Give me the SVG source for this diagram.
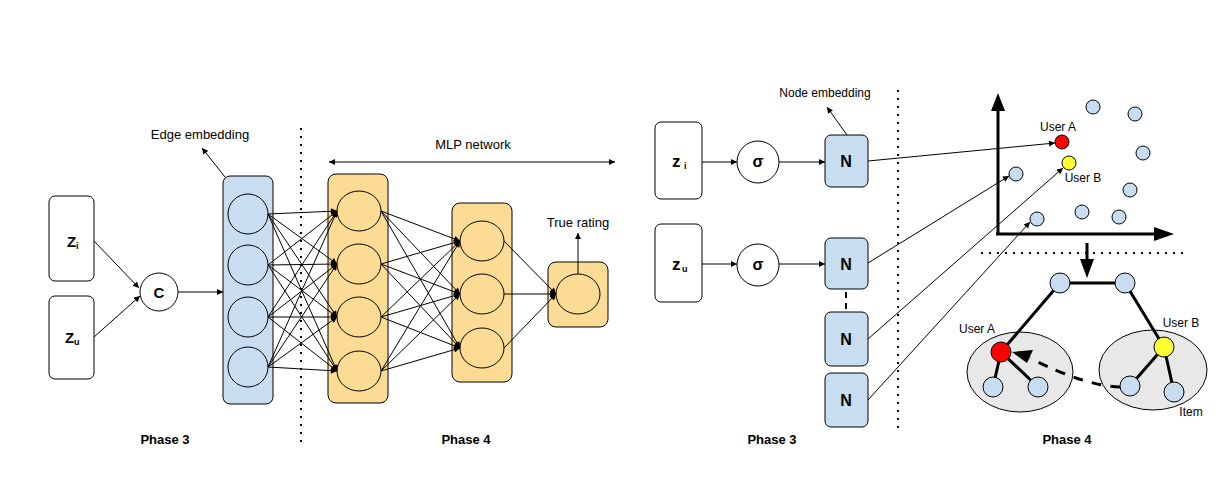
<svg xmlns="http://www.w3.org/2000/svg" width="1232" height="477" viewBox="0 0 1232 477">
<style>
.t{font-family:"Liberation Sans",Arial,sans-serif;fill:#000}
.b{font-weight:bold}
.ln{stroke:#000;stroke-width:1;fill:none}
.box{fill:#fff;stroke:#000;stroke-width:1}
.blue{fill:#c9ddf0;stroke:#000;stroke-width:1}
.yel{fill:#fcdc95;stroke:#000;stroke-width:1}
.dot{stroke:#000;stroke-width:2;stroke-dasharray:2 6;fill:none}
.thick{stroke:#000;stroke-width:3;fill:none}
.pt{fill:#c9ddf0;stroke:#000;stroke-width:1}
</style>
<defs>
<marker id="ah" viewBox="0 0 10 10" refX="10" refY="5" markerWidth="7" markerHeight="6" markerUnits="userSpaceOnUse" orient="auto-start-reverse">
<path d="M0,0 L10,5 L0,10 z" fill="#000"/>
</marker>
</defs>
<rect width="1232" height="477" fill="#fff"/>

<!-- separators -->
<g id="separators">
<line class="dot" x1="301" y1="128" x2="301" y2="445"/>
<line class="dot" x1="898" y1="90" x2="898" y2="430"/>
<line class="dot" x1="981" y1="253" x2="1185" y2="253"/>
</g>

<!-- left phase 3 nodes -->
<g id="zi-left"><rect class="box" x="49" y="196" width="45" height="85" rx="6"/>
<text class="t b" x="67" y="247" font-size="15">Z</text><text class="t b" x="76" y="249" font-size="9">i</text></g>
<g id="zu-left"><rect class="box" x="49" y="296" width="45" height="83" rx="6"/>
<text class="t b" x="65" y="343" font-size="15">Z</text><text class="t b" x="74" y="345" font-size="9">u</text></g>
<g id="concat"><circle class="box" cx="159" cy="292" r="19"/>
<text class="t b" x="159" y="298" font-size="15" text-anchor="middle">C</text></g>
<g id="edge-embedding"><rect class="blue" x="223" y="176" width="50" height="228" rx="7"/>
<circle class="blue" cx="248" cy="214" r="20"/><circle class="blue" cx="248" cy="265" r="20"/><circle class="blue" cx="248" cy="317" r="20"/><circle class="blue" cx="248" cy="367" r="20"/>
<text class="t" x="200" y="139" font-size="13" text-anchor="middle">Edge embedding</text></g>

<!-- MLP -->
<g id="mlp1"><rect class="yel" x="328" y="174" width="60" height="229" rx="8"/>
<ellipse class="yel" cx="359" cy="211" rx="22" ry="20"/><ellipse class="yel" cx="359" cy="264" rx="22" ry="20"/><ellipse class="yel" cx="359" cy="317" rx="22" ry="20"/><ellipse class="yel" cx="359" cy="371" rx="22" ry="20"/></g>
<g id="mlp2"><rect class="yel" x="452" y="203" width="60" height="179" rx="8"/>
<ellipse class="yel" cx="482" cy="241" rx="22" ry="20"/><ellipse class="yel" cx="482" cy="294" rx="22" ry="20"/><ellipse class="yel" cx="482" cy="348" rx="22" ry="20"/></g>
<g id="output"><rect class="yel" x="548" y="262" width="60" height="65" rx="8"/>
<ellipse class="yel" cx="578" cy="294" rx="22" ry="20"/>
<text class="t" x="578" y="227" font-size="13" text-anchor="middle">True rating</text></g>
<g id="mlp-label"><text class="t" x="473" y="149" font-size="13" text-anchor="middle">MLP network</text></g>

<!-- right phase 3 -->
<g id="zi-right"><rect class="box" x="655" y="122" width="47" height="77" rx="6"/>
<text class="t b" x="672" y="167" font-size="17">z</text><text class="t b" x="684" y="169" font-size="9">i</text></g>
<g id="zu-right"><rect class="box" x="655" y="224" width="47" height="78" rx="6"/>
<text class="t b" x="672" y="270" font-size="17">z</text><text class="t b" x="682" y="272" font-size="9">u</text></g>
<g id="sigma1"><circle class="box" cx="758" cy="162" r="21"/><text class="t b" x="758" y="167" font-size="16" text-anchor="middle">σ</text></g>
<g id="sigma2"><circle class="box" cx="758" cy="265" r="21"/><text class="t b" x="758" y="270" font-size="16" text-anchor="middle">σ</text></g>
<g id="n1"><rect class="blue" x="825" y="135" width="43" height="52" rx="6"/><text class="t b" x="846" y="167" font-size="16" text-anchor="middle">N</text></g>
<g id="n2"><rect class="blue" x="825" y="238" width="43" height="51" rx="6"/><text class="t b" x="846" y="270" font-size="16" text-anchor="middle">N</text></g>
<g id="n3"><rect class="blue" x="825" y="312" width="43" height="54" rx="6"/><text class="t b" x="846" y="345" font-size="16" text-anchor="middle">N</text></g>
<g id="n4"><rect class="blue" x="825" y="373" width="43" height="54" rx="6"/><text class="t b" x="846" y="406" font-size="16" text-anchor="middle">N</text></g>
<g id="node-emb-label"><text class="t" x="825" y="97" font-size="12" text-anchor="middle">Node embedding</text></g>

<!-- embedding space -->
<g id="space">
<line class="thick" x1="998" y1="235" x2="998" y2="108" stroke-width="4"/>
<polygon points="991,111 1005,111 998,93" fill="#000"/>
<line class="thick" x1="996" y1="234" x2="1156" y2="234" stroke-width="4"/>
<polygon points="1154,227 1154,241 1174,234" fill="#000"/>
<circle class="pt" cx="1093" cy="107" r="7"/><circle class="pt" cx="1135" cy="114" r="7"/><circle class="pt" cx="1143" cy="153" r="7"/>
<circle class="pt" cx="1130" cy="190" r="7"/><circle class="pt" cx="1119" cy="217" r="7"/><circle class="pt" cx="1082" cy="212" r="7"/>
<circle class="pt" cx="1037" cy="219" r="7"/><circle class="pt" cx="1016" cy="174" r="7"/>
<circle cx="1062" cy="142" r="7" fill="#ff0000" stroke="#000"/>
<circle cx="1069" cy="163" r="7" fill="#ffff33" stroke="#000"/>
<text class="t" x="1058" y="131" font-size="12" text-anchor="middle">User A</text>
<text class="t" x="1083" y="182" font-size="12" text-anchor="middle">User B</text>
</g>

<!-- graph -->
<g id="graph">
<line class="thick" x1="1087" y1="243" x2="1087" y2="262"/>
<polygon points="1080,259 1094,259 1087,278" fill="#000"/>
<ellipse cx="1020" cy="372" rx="53" ry="40" fill="#e8e8e8" stroke="#000"/>
<ellipse cx="1153" cy="370" rx="54" ry="40" fill="#e8e8e8" stroke="#000"/>
<g class="thick">
<line x1="1060" y1="283" x2="1125" y2="283"/>
<line x1="1060" y1="283" x2="1001" y2="352"/>
<line x1="1125" y1="283" x2="1164" y2="347"/>
<line x1="1001" y1="352" x2="993" y2="387"/>
<line x1="1001" y1="352" x2="1038" y2="387"/>
<line x1="1164" y1="347" x2="1130" y2="386"/>
<line x1="1164" y1="347" x2="1174" y2="392"/>
</g>
<path d="M1120,387 Q1085,386 1030,358" fill="none" stroke="#000" stroke-width="3" stroke-dasharray="10 9"/>
<polygon points="1012,352 1033,350 1027,363" fill="#000"/>
<circle class="pt" cx="1060" cy="283" r="10"/><circle class="pt" cx="1125" cy="283" r="10"/>
<circle cx="1001" cy="352" r="10" fill="#ff0000" stroke="#000"/>
<circle cx="1164" cy="347" r="10" fill="#ffff33" stroke="#000"/>
<circle class="pt" cx="993" cy="387" r="10"/><circle class="pt" cx="1038" cy="387" r="10"/>
<circle class="pt" cx="1130" cy="386" r="10"/><circle class="pt" cx="1174" cy="392" r="10"/>
<text class="t" x="977" y="333" font-size="12" text-anchor="middle">User A</text>
<text class="t" x="1181" y="327" font-size="12" text-anchor="middle">User B</text>
<text class="t" x="1191" y="416" font-size="12" text-anchor="middle">Item</text>
</g>

<!-- connectors -->
<g id="connectors">
<line class="ln" x1="94" y1="241" x2="139" y2="288" marker-end="url(#ah)"/>
<line class="ln" x1="94" y1="337" x2="140" y2="296" marker-end="url(#ah)"/>
<line class="ln" x1="178" y1="292" x2="223" y2="292" marker-end="url(#ah)"/>
<line class="ln" x1="225" y1="177" x2="202" y2="148" marker-end="url(#ah)"/>
<g class="ln" marker-end="url(#ah)">
<line x1="268" y1="214" x2="337" y2="211"/><line x1="268" y1="214" x2="337" y2="264"/><line x1="268" y1="214" x2="337" y2="317"/><line x1="268" y1="214" x2="337" y2="371"/>
<line x1="268" y1="265" x2="337" y2="211"/><line x1="268" y1="265" x2="337" y2="264"/><line x1="268" y1="265" x2="337" y2="317"/><line x1="268" y1="265" x2="337" y2="371"/>
<line x1="268" y1="317" x2="337" y2="211"/><line x1="268" y1="317" x2="337" y2="264"/><line x1="268" y1="317" x2="337" y2="317"/><line x1="268" y1="317" x2="337" y2="371"/>
<line x1="268" y1="367" x2="337" y2="211"/><line x1="268" y1="367" x2="337" y2="264"/><line x1="268" y1="367" x2="337" y2="317"/><line x1="268" y1="367" x2="337" y2="371"/>
</g>
<g class="ln" marker-end="url(#ah)">
<line x1="381" y1="211" x2="460" y2="241"/><line x1="381" y1="211" x2="460" y2="294"/><line x1="381" y1="211" x2="460" y2="348"/>
<line x1="381" y1="264" x2="460" y2="241"/><line x1="381" y1="264" x2="460" y2="294"/><line x1="381" y1="264" x2="460" y2="348"/>
<line x1="381" y1="317" x2="460" y2="241"/><line x1="381" y1="317" x2="460" y2="294"/><line x1="381" y1="317" x2="460" y2="348"/>
<line x1="381" y1="371" x2="460" y2="241"/><line x1="381" y1="371" x2="460" y2="294"/><line x1="381" y1="371" x2="460" y2="348"/>
</g>
<g class="ln" marker-end="url(#ah)">
<line x1="504" y1="241" x2="556" y2="294"/><line x1="504" y1="294" x2="556" y2="294"/><line x1="504" y1="348" x2="556" y2="294"/>
</g>
<line class="ln" x1="578" y1="274" x2="578" y2="233" marker-end="url(#ah)"/>
<line class="ln" x1="329" y1="162" x2="615" y2="162" marker-start="url(#ah)" marker-end="url(#ah)"/>
<line class="ln" x1="702" y1="162" x2="737" y2="162" marker-end="url(#ah)"/>
<line class="ln" x1="779" y1="162" x2="825" y2="162" marker-end="url(#ah)"/>
<line class="ln" x1="702" y1="264" x2="737" y2="264" marker-end="url(#ah)"/>
<line class="ln" x1="779" y1="264" x2="825" y2="264" marker-end="url(#ah)"/>
<line class="ln" x1="847" y1="135" x2="827" y2="107" marker-end="url(#ah)"/>
<line x1="846" y1="292" x2="846" y2="312" stroke="#000" stroke-width="2" stroke-dasharray="6 5"/>
<line class="ln" x1="868" y1="161" x2="1055" y2="143" marker-end="url(#ah)"/>
<line class="ln" x1="868" y1="263" x2="1009" y2="176" marker-end="url(#ah)"/>
<line class="ln" x1="868" y1="339" x2="1063" y2="168" marker-end="url(#ah)"/>
<line class="ln" x1="868" y1="400" x2="1030" y2="222" marker-end="url(#ah)"/>
</g>

<!-- phase labels -->
<g id="phases">
<text class="t b" x="165" y="444" font-size="13" text-anchor="middle">Phase 3</text>
<text class="t b" x="466" y="444" font-size="13" text-anchor="middle">Phase 4</text>
<text class="t b" x="772" y="444" font-size="13" text-anchor="middle">Phase 3</text>
<text class="t b" x="1067" y="444" font-size="13" text-anchor="middle">Phase 4</text>
</g>
</svg>
